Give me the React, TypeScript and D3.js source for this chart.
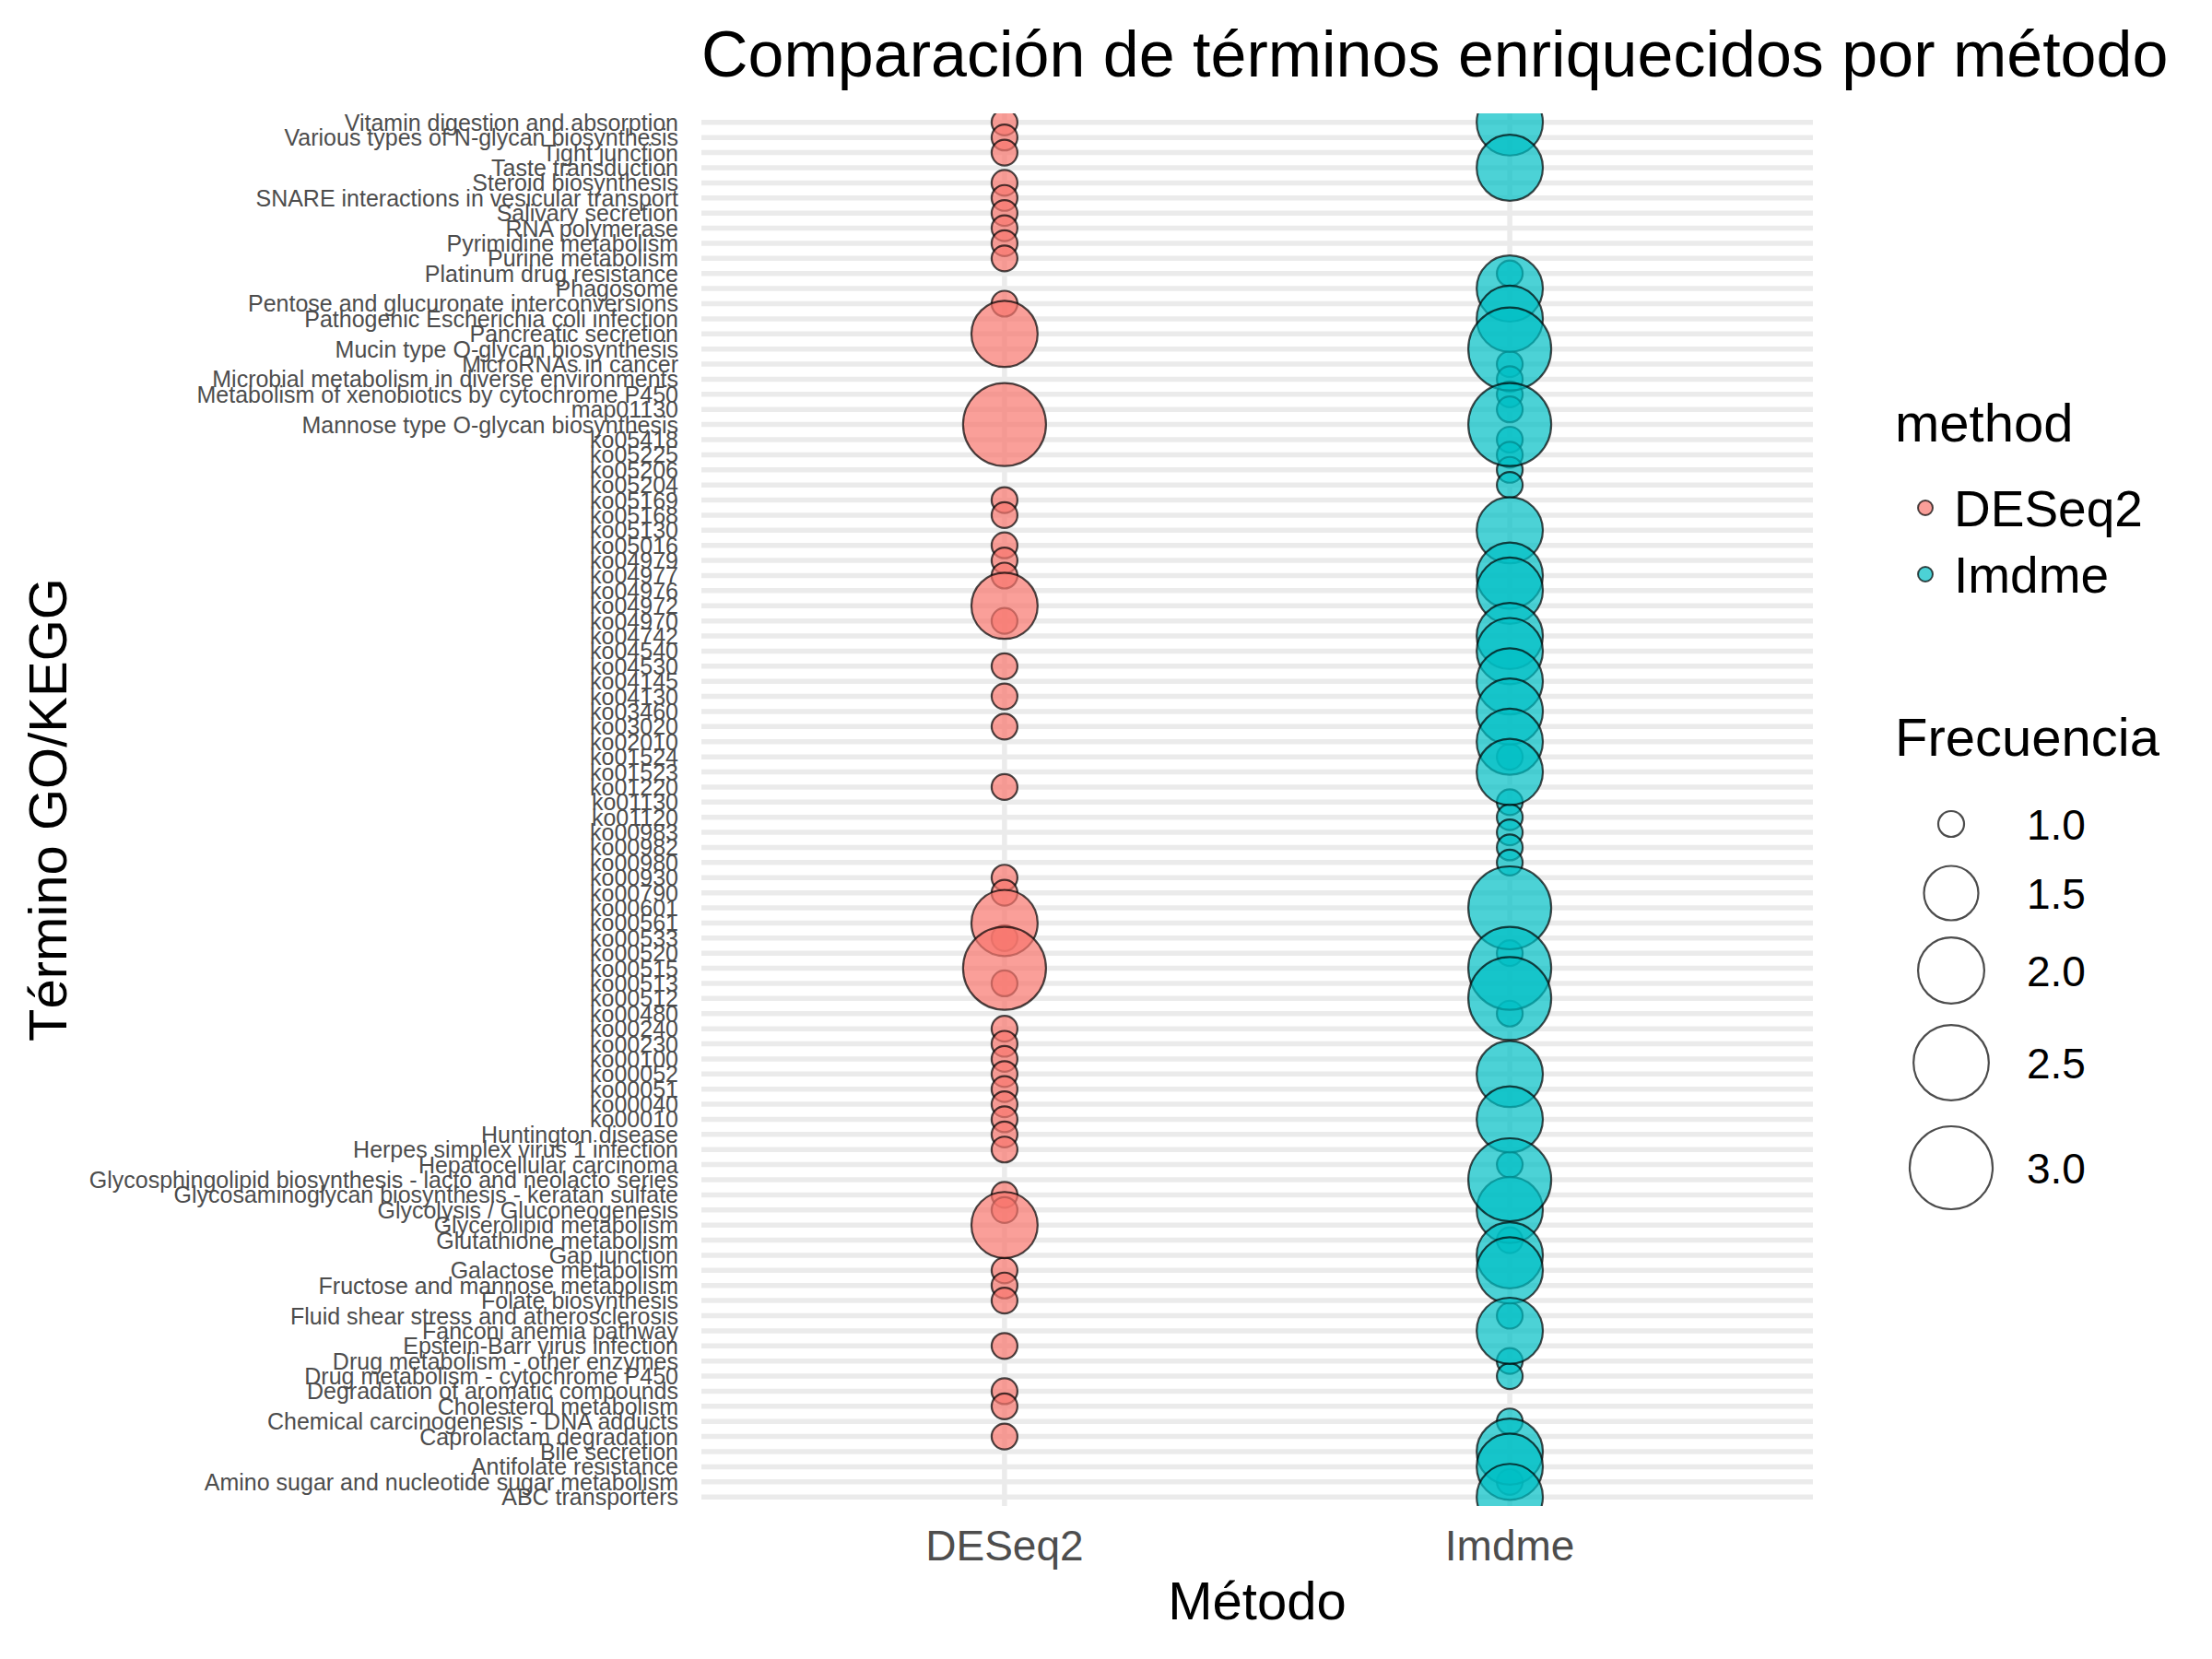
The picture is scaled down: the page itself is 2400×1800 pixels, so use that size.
import * as d3 from 'd3'
import { useEffect, useRef } from 'react'

// términos en el orden del eje (de arriba hacia abajo)
const terms = [
  "Vitamin digestion and absorption",
  "Various types of N-glycan biosynthesis",
  "Tight junction",
  "Taste transduction",
  "Steroid biosynthesis",
  "SNARE interactions in vesicular transport",
  "Salivary secretion",
  "RNA polymerase",
  "Pyrimidine metabolism",
  "Purine metabolism",
  "Platinum drug resistance",
  "Phagosome",
  "Pentose and glucuronate interconversions",
  "Pathogenic Escherichia coli infection",
  "Pancreatic secretion",
  "Mucin type O-glycan biosynthesis",
  "MicroRNAs in cancer",
  "Microbial metabolism in diverse environments",
  "Metabolism of xenobiotics by cytochrome P450",
  "map01130",
  "Mannose type O-glycan biosynthesis",
  "ko05418", "ko05225", "ko05206", "ko05204", "ko05169", "ko05168", "ko05130",
  "ko05016", "ko04979", "ko04977", "ko04976", "ko04972", "ko04970", "ko04742",
  "ko04540", "ko04530", "ko04145", "ko04130", "ko03460", "ko03020", "ko02010",
  "ko01524", "ko01523", "ko01220", "ko01130", "ko01120", "ko00983", "ko00982",
  "ko00980", "ko00930", "ko00790", "ko00601", "ko00561", "ko00533", "ko00520",
  "ko00515", "ko00513", "ko00512", "ko00480", "ko00240", "ko00230", "ko00100",
  "ko00052", "ko00051", "ko00040", "ko00010",
  "Huntington disease",
  "Herpes simplex virus 1 infection",
  "Hepatocellular carcinoma",
  "Glycosphingolipid biosynthesis - lacto and neolacto series",
  "Glycosaminoglycan biosynthesis - keratan sulfate",
  "Glycolysis / Gluconeogenesis",
  "Glycerolipid metabolism",
  "Glutathione metabolism",
  "Gap junction",
  "Galactose metabolism",
  "Fructose and mannose metabolism",
  "Folate biosynthesis",
  "Fluid shear stress and atherosclerosis",
  "Fanconi anemia pathway",
  "Epstein-Barr virus infection",
  "Drug metabolism - other enzymes",
  "Drug metabolism - cytochrome P450",
  "Degradation of aromatic compounds",
  "Cholesterol metabolism",
  "Chemical carcinogenesis - DNA adducts",
  "Caprolactam degradation",
  "Bile secretion",
  "Antifolate resistance",
  "Amino sugar and nucleotide sugar metabolism",
  "ABC transporters",
]

const methods = ["DESeq2", "Imdme"]
const methodColors = ["#F8766D", "#00BFC4"]

const deseq2Terms = [
  "Vitamin digestion and absorption", "Various types of N-glycan biosynthesis",
  "Tight junction", "Steroid biosynthesis", "SNARE interactions in vesicular transport",
  "Salivary secretion", "RNA polymerase", "Pyrimidine metabolism", "Purine metabolism",
  "Pentose and glucuronate interconversions", "Pancreatic secretion",
  "Mannose type O-glycan biosynthesis",
  "ko05169", "ko05168", "ko05016", "ko04979", "ko04977", "ko04972", "ko04970",
  "ko04530", "ko04130", "ko03020", "ko01220", "ko00930", "ko00790", "ko00561",
  "ko00533", "ko00515", "ko00513", "ko00240", "ko00230", "ko00100", "ko00052",
  "ko00051", "ko00040", "ko00010",
  "Huntington disease", "Herpes simplex virus 1 infection",
  "Glycosaminoglycan biosynthesis - keratan sulfate", "Glycolysis / Gluconeogenesis",
  "Glycerolipid metabolism", "Galactose metabolism", "Fructose and mannose metabolism",
  "Folate biosynthesis", "Epstein-Barr virus infection", "Degradation of aromatic compounds",
  "Cholesterol metabolism", "Caprolactam degradation",
]
const deseq2Freq = [
  1, 1,
  1, 1, 1,
  1, 1, 1, 1,
  1, 2,
  3,
  1, 1, 1, 1, 1, 2, 1,
  1, 1, 1, 1, 1, 1, 2,
  1, 3, 1, 1, 1, 1, 1,
  1, 1, 1,
  1, 1,
  1, 1,
  2, 1, 1,
  1, 1, 1,
  1, 1,
]

const imdmeTerms = [
  "Vitamin digestion and absorption", "Taste transduction", "Platinum drug resistance",
  "Phagosome", "Pathogenic Escherichia coli infection", "Mucin type O-glycan biosynthesis",
  "MicroRNAs in cancer", "Microbial metabolism in diverse environments",
  "Metabolism of xenobiotics by cytochrome P450", "map01130",
  "Mannose type O-glycan biosynthesis",
  "ko05418", "ko05225", "ko05206", "ko05204", "ko05130", "ko04977", "ko04976",
  "ko04742", "ko04540", "ko04145", "ko03460", "ko02010", "ko01524", "ko01523",
  "ko01130", "ko01120", "ko00983", "ko00982", "ko00980", "ko00601", "ko00520",
  "ko00515", "ko00512", "ko00480", "ko00052", "ko00010",
  "Hepatocellular carcinoma", "Glycosphingolipid biosynthesis - lacto and neolacto series",
  "Glycolysis / Gluconeogenesis", "Glutathione metabolism", "Gap junction",
  "Galactose metabolism", "Fluid shear stress and atherosclerosis", "Fanconi anemia pathway",
  "Drug metabolism - other enzymes", "Drug metabolism - cytochrome P450",
  "Chemical carcinogenesis - DNA adducts", "Bile secretion", "Antifolate resistance",
  "Amino sugar and nucleotide sugar metabolism", "ABC transporters",
]
const imdmeFreq = [
  2, 2, 1,
  2, 2, 3,
  1, 1,
  1, 1,
  3,
  1, 1, 1, 1, 2, 2, 2,
  2, 2, 2, 2, 2, 1, 2,
  1, 1, 1, 1, 1, 3, 1,
  3, 3, 1, 2, 2,
  1, 3,
  2, 1, 2,
  2, 1, 2,
  1, 1,
  1, 2, 2,
  1, 2,
]

const freqBreaks = [1.0, 1.5, 2.0, 2.5, 3.0]

function drawChart(svgEl) {
  const svg = d3.select(svgEl)
  svg.selectAll("*").remove()

  const font = "'Liberation Sans', Arial, Helvetica, sans-serif"
  const panel = { left: 761, right: 1967, top: 123, bottom: 1634 }

  const x = d3.scalePoint().domain(methods).range([panel.left, panel.right]).padding(0.6)
  const y = d3.scalePoint().domain(terms).range([panel.top, panel.bottom]).padding(0.6)
  const color = d3.scaleOrdinal().domain(methods).range(methodColors)
  // escala de área como scale_size de ggplot
  const sizeScale = d3.scaleLinear().domain([0, 1]).range([14, 45])
  const radius = f => sizeScale(Math.sqrt((f - 1) / 2))

  svg.append("rect").attr("width", 2400).attr("height", 1800).attr("fill", "white")

  svg.append("defs").append("clipPath").attr("id", "panel-clip")
    .append("rect")
    .attr("x", panel.left).attr("y", panel.top)
    .attr("width", panel.right - panel.left).attr("height", panel.bottom - panel.top)

  // líneas de cuadrícula
  const grid = svg.append("g").attr("stroke", "#EBEBEB").attr("stroke-width", 5.5)
  grid.selectAll("line.h").data(terms).enter().append("line")
    .attr("x1", panel.left).attr("x2", panel.right)
    .attr("y1", d => y(d)).attr("y2", d => y(d))
  grid.selectAll("line.v").data(methods).enter().append("line")
    .attr("x1", d => x(d)).attr("x2", d => x(d))
    .attr("y1", panel.top).attr("y2", panel.bottom)

  const points = [
    ...deseq2Terms.map((t, i) => ({ term: t, method: "DESeq2", freq: deseq2Freq[i] })),
    ...imdmeTerms.map((t, i) => ({ term: t, method: "Imdme", freq: imdmeFreq[i] })),
  ].sort((a, b) => a.freq - b.freq)

  svg.append("g").attr("clip-path", "url(#panel-clip)")
    .selectAll("circle").data(points).enter().append("circle")
    .attr("cx", d => x(d.method))
    .attr("cy", d => y(d.term))
    .attr("r", d => radius(d.freq))
    .attr("fill", d => color(d.method)).attr("fill-opacity", 0.7)
    .attr("stroke", "black").attr("stroke-opacity", 0.7).attr("stroke-width", 2.2)

  // etiquetas del eje y
  svg.append("g").selectAll("text").data(terms).enter().append("text")
    .attr("x", panel.left - 25).attr("y", d => y(d)).attr("dy", "0.36em")
    .attr("text-anchor", "end").attr("font-family", font).attr("font-size", 25)
    .attr("fill", "#4D4D4D")
    .text(d => d)

  // etiquetas del eje x
  svg.append("g").selectAll("text").data(methods).enter().append("text")
    .attr("x", d => x(d)).attr("y", 1693)
    .attr("text-anchor", "middle").attr("font-family", font).attr("font-size", 46)
    .attr("fill", "#4D4D4D")
    .text(d => d)

  // títulos
  svg.append("text").attr("x", panel.left).attr("y", 83)
    .attr("font-family", font).attr("font-size", 70).attr("fill", "black")
    .text("Comparación de términos enriquecidos por método")
  svg.append("text").attr("x", (panel.left + panel.right) / 2).attr("y", 1757)
    .attr("text-anchor", "middle").attr("font-family", font).attr("font-size", 58)
    .text("Método")
  svg.append("text").attr("transform", `translate(72, ${(panel.top + panel.bottom) / 2}) rotate(-90)`)
    .attr("text-anchor", "middle").attr("font-family", font).attr("font-size", 58)
    .text("Término GO/KEGG")

  // leyenda de método
  const lg = svg.append("g").attr("font-family", font)
  lg.append("text").attr("x", 2056).attr("y", 479).attr("font-size", 58).text("method")
  const keyY = d3.scalePoint().domain(methods).range([551, 623])
  lg.selectAll("circle.m").data(methods).enter().append("circle")
    .attr("cx", 2089).attr("cy", d => keyY(d)).attr("r", 8)
    .attr("fill", d => color(d)).attr("fill-opacity", 0.7)
    .attr("stroke", "black").attr("stroke-opacity", 0.7).attr("stroke-width", 2)
  lg.selectAll("text.m").data(methods).enter().append("text")
    .attr("x", 2120).attr("y", d => keyY(d)).attr("dy", "0.36em")
    .attr("font-size", 55).text(d => d)

  // leyenda de frecuencia
  lg.append("text").attr("x", 2056).attr("y", 820).attr("font-size", 58).text("Frecuencia")
  const sizeY = [894, 969, 1053, 1153, 1267]
  lg.selectAll("circle.s").data(freqBreaks).enter().append("circle")
    .attr("cx", 2117).attr("cy", (d, i) => sizeY[i]).attr("r", d => radius(d))
    .attr("fill", "none")
    .attr("stroke", "black").attr("stroke-opacity", 0.7).attr("stroke-width", 2.2)
  lg.selectAll("text.s").data(freqBreaks).enter().append("text")
    .attr("x", 2199).attr("y", (d, i) => sizeY[i]).attr("dy", "0.36em")
    .attr("font-size", 46).text(d => d.toFixed(1))
}

export default function App() {
  const ref = useRef(null)
  useEffect(() => {
    drawChart(ref.current)
  }, [])

  return (
    <svg ref={ref} width={2400} height={1800}
      style={{ position: 'absolute', left: 0, top: 0, display: 'block', background: 'white' }}>
    </svg>
  )
}
